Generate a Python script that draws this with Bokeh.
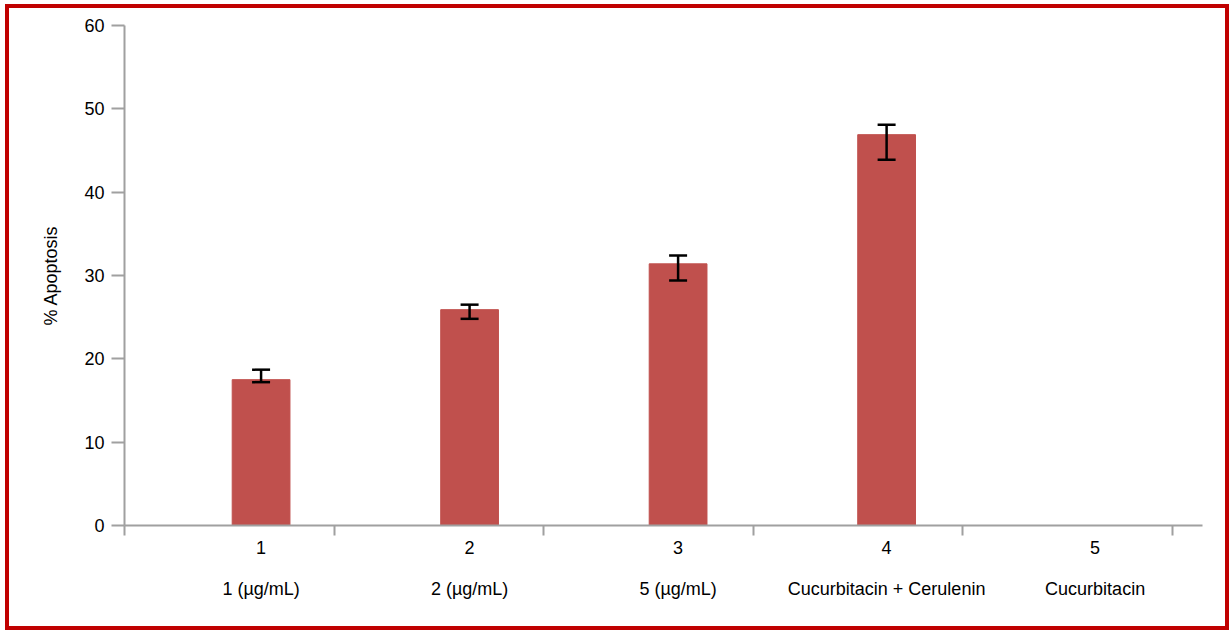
import math
from bokeh.plotting import figure
from bokeh.models import ColumnDataSource, Whisker, TeeHead, FixedTicker, LinearAxis, Range1d
from bokeh.embed import file_html
from bokeh.resources import INLINE

# ---- data ----
positions = [1, 2, 3, 4, 5]
tick_labels = ["1", "2", "3", "4", "5"]
group_labels = ["1 (µg/mL)", "2 (µg/mL)", "5 (µg/mL)", "Cucurbitacin + Cerulenin", "Cucurbitacin"]
apoptosis = [17.5, 25.9, 31.4, 46.9, float("nan")]
err_upper = [18.7, 26.5, 32.4, 48.1]
err_lower = [17.2, 24.8, 29.4, 43.9]
y_ticks = [0, 10, 20, 30, 40, 50, 60]
# category separators (drawn slightly left of the midpoints, as in the source)
boundaries = [0.345, 1.35, 2.355, 3.36, 4.365, 5.37]

FONT = "Liberation Sans"
AXIS_GRAY = "#a0a0a0"
FS = "18px"

p = figure(width=1224, height=626, output_backend="svg", toolbar_location=None,
           x_range=Range1d(0.345, 5.515), y_range=Range1d(0, 60),
           min_border_left=115, min_border_right=31, min_border_top=17, min_border_bottom=109,
           x_axis_location=None)
p.styles = {"border": "4px solid #c00000", "margin": "4px 0px 0px 5px"}
p.outline_line_color = None
p.xgrid.grid_line_color = None
p.ygrid.grid_line_color = None
p.background_fill_color = "white"
p.border_fill_color = "white"

bars = ColumnDataSource(dict(x=positions, top=apoptosis))
p.vbar(x="x", top="top", width=0.277, bottom=0, source=bars,
       fill_color="#c0504d", line_color="#c0504d")

errs = ColumnDataSource(dict(x=positions[:4], upper=err_upper, lower=err_lower))
w = Whisker(base="x", upper="upper", lower="lower", source=errs, level="overlay",
            line_color="black", line_width=2.5,
            upper_head=TeeHead(size=18, line_color="black", line_width=2.5),
            lower_head=TeeHead(size=18, line_color="black", line_width=2.5))
p.add_layout(w)

# y axis
ya = p.yaxis[0]
ya.ticker = FixedTicker(ticks=y_ticks, minor_ticks=[])
ya.axis_label = "% Apoptosis"
ya.axis_label_text_font = FONT
ya.axis_label_text_font_style = "normal"
ya.axis_label_text_font_size = FS
ya.axis_label_text_color = "black"
ya.axis_label_standoff = 20
ya.major_label_text_font = FONT
ya.major_label_text_font_size = FS
ya.major_label_text_color = "black"
ya.major_label_standoff = 7
ya.axis_line_color = AXIS_GRAY
ya.axis_line_width = 2
ya.major_tick_line_color = AXIS_GRAY
ya.major_tick_line_width = 2
ya.major_tick_in = 0
ya.major_tick_out = 13
ya.minor_tick_line_color = None

# x axis: category numbers, with separator ticks
xa = LinearAxis(ticker=FixedTicker(ticks=positions, minor_ticks=boundaries),
                major_label_overrides={pos: lab for pos, lab in zip(positions, tick_labels)})
xa.axis_line_color = AXIS_GRAY
xa.axis_line_width = 2
xa.major_tick_line_color = None
xa.major_tick_out = 10
xa.major_tick_in = 0
xa.minor_tick_line_color = AXIS_GRAY
xa.minor_tick_line_width = 2
xa.minor_tick_out = 10
xa.minor_tick_in = 0
xa.major_label_text_font = FONT
xa.major_label_text_font_size = FS
xa.major_label_text_color = "black"
xa.major_label_standoff = 5
p.add_layout(xa, "below")

# second row: group names
xb = LinearAxis(ticker=FixedTicker(ticks=positions, minor_ticks=[]),
                major_label_overrides={pos: lab for pos, lab in zip(positions, group_labels)})
xb.axis_line_color = None
xb.major_tick_line_color = None
xb.minor_tick_line_color = None
xb.major_tick_out = 0
xb.major_tick_in = 0
xb.major_label_text_font = FONT
xb.major_label_text_font_size = FS
xb.major_label_text_color = "black"
xb.major_label_standoff = 22
p.add_layout(xb, "below")

open("out.html", "w").write(file_html(p, INLINE))
